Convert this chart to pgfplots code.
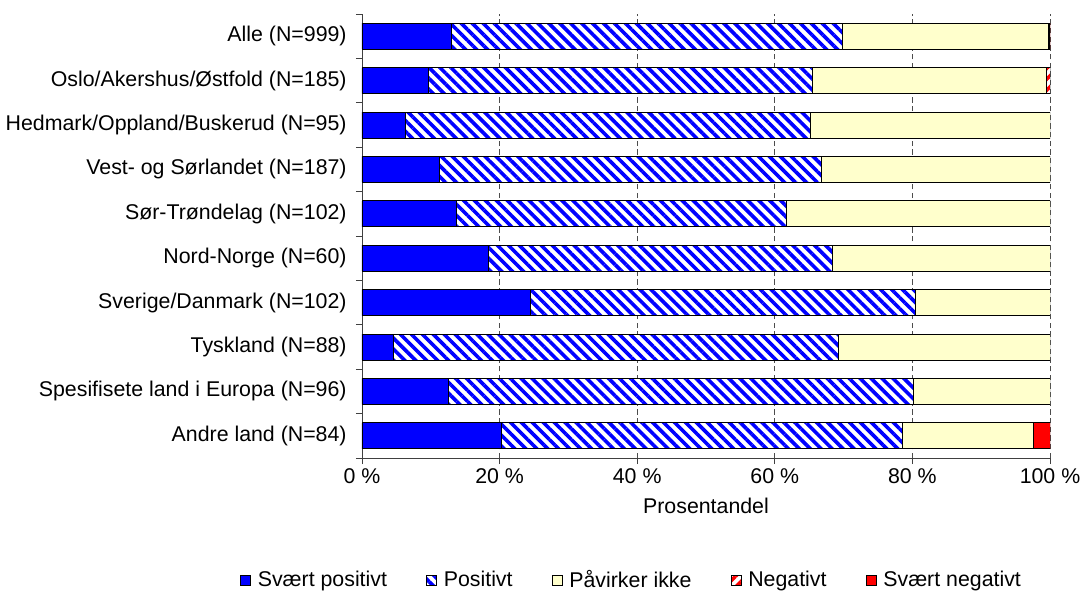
\documentclass[border=0pt]{standalone}
\usepackage{fontspec}
\setmainfont{Liberation Sans}
\usepackage{pgfplots}
\usepackage{pgfplotstable}
\pgfplotsset{compat=1.18}
\usetikzlibrary{patterns.meta}

\definecolor{spos}{RGB}{0,0,255}
\definecolor{pik}{RGB}{255,255,204}
\definecolor{sneg}{RGB}{255,0,0}

% shares in percent, row 9 = Alle (top bar)
\pgfplotstableread{
idx spos pos pik neg sneg
0 20.2 58.3 19.1 0.0 2.4
1 12.5 67.7 19.8 0.0 0.0
2 4.5 64.8 30.7 0.0 0.0
3 24.5 55.9 19.6 0.0 0.0
4 18.3 50.0 31.7 0.0 0.0
5 13.7 48.0 38.3 0.0 0.0
6 11.2 55.6 33.2 0.0 0.0
7 6.3 58.9 34.8 0.0 0.0
8 9.7 55.7 34.1 0.5 0.0
9 13.0 56.8 29.9 0.2 0.1
}\data

\pgfplotsset{
  sq legend/.style={legend image code/.code={
    \draw[##1,draw=black,line width=0.6pt] (0pt,-3.75pt) rectangle (7.5pt,3.75pt);}},
}

\begin{document}
\begin{tikzpicture}[font=\fontsize{16}{19}\selectfont]
\path[use as bounding box] (-271.5pt,-99pt) rectangle (541.5pt,343.5pt);
\begin{axis}[
  at={(0,0)}, anchor=south west,
  scale only axis, width=516pt, height=333pt,
  xbar stacked, bar width=19.5pt,
  xmin=0, xmax=100, ymin=-0.5, ymax=9.5,
  axis x line*=bottom, axis y line*=left,
  axis line style={black!75},
  tick align=outside, major tick length=4.5pt, minor tick length=4.5pt,
  tick style={black!75, line width=0.6pt},
  xtick={0,20,40,60,80,100},
  xticklabels={0 \%,20 \%,40 \%,60 \%,80 \%,100 \%},
  ytick={0,...,9},
  yticklabels={Andre land (N=84),Spesifisete land i Europa (N=96),Tyskland (N=88),
    Sverige/Danmark (N=102),Nord-Norge (N=60),Sør-Trøndelag (N=102),
    Vest- og Sørlandet (N=187),Hedmark/Oppland/Buskerud (N=95),
    Oslo/Akershus/Østfold (N=185),Alle (N=999)},
  yticklabel style={xshift=-3.5pt},
  minor ytick={-0.5,0.5,...,9.5},
  every major y tick/.append style={draw=none},
  xmajorgrids,
  major grid style={black!70, dash pattern=on 4pt off 2.5pt, line width=0.6pt},
  xlabel={Prosentandel},
  xlabel style={at={(axis description cs:0.5,-0.108)}, anchor=center},
  legend columns=5,
  legend style={at={(axis description cs:0.3924,-0.2748)}, anchor=center,
    draw=none, fill=none, inner sep=0pt,
    /tikz/every odd column/.append style={column sep=3pt},
    /tikz/every even column/.append style={column sep=27.5pt}},
]
\addplot[sq legend, fill=spos, draw=black, line width=0.6pt]
  table[x=spos, y=idx] {\data};
\addplot[sq legend, fill=white, draw=black, line width=0.6pt,
  postaction={pattern={Lines[angle=-45,distance=5.8pt,line width=2.7pt]}, pattern color=spos}]
  table[x=pos, y=idx] {\data};
\addplot[sq legend, fill=pik, draw=black, line width=0.6pt]
  table[x=pik, y=idx] {\data};
\addplot[sq legend, fill=white, draw=black, line width=0.6pt,
  postaction={pattern={Lines[angle=45,distance=5.8pt,line width=2.7pt]}, pattern color=sneg}]
  table[x=neg, y=idx] {\data};
\addplot[sq legend, fill=sneg, draw=black, line width=0.6pt]
  table[x=sneg, y=idx] {\data};
\legend{Svært positivt,Positivt,Påvirker ikke,Negativt,Svært negativt}
\end{axis}
\end{tikzpicture}
\end{document}
